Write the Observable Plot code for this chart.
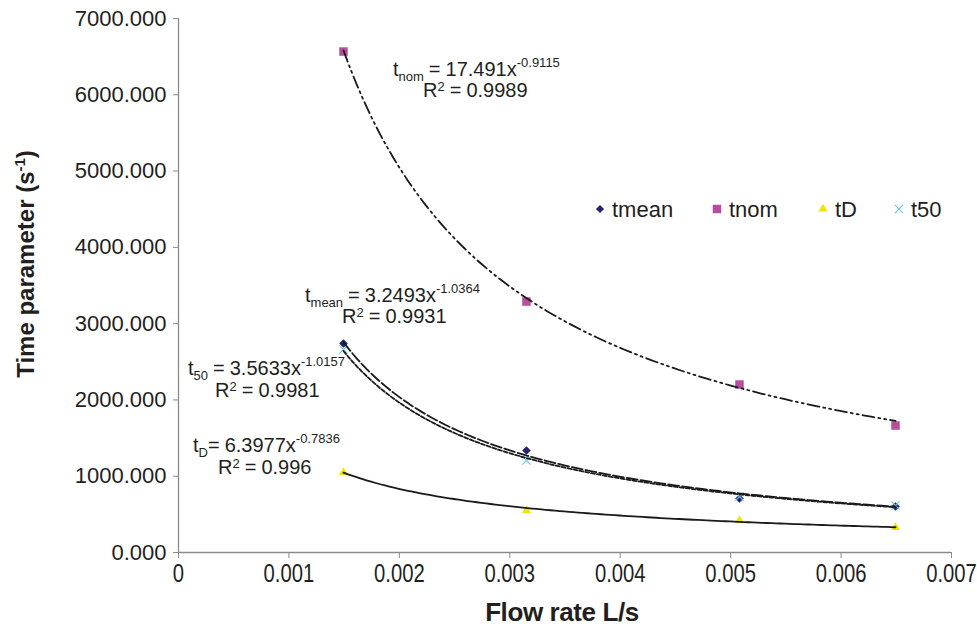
<!DOCTYPE html>
<html><head><meta charset="utf-8">
<script src="https://cdn.jsdelivr.net/npm/d3@7"></script>
<script src="https://cdn.jsdelivr.net/npm/@observablehq/plot@0.6"></script>
<style>
body{margin:0;background:#fff}
#chart svg{font-family:"Liberation Sans",Arial,sans-serif;overflow:visible}
</style>
</head><body><div id="chart"></div>
<script>
// ---- data ----
const flow  = [0.001494, 0.003151, 0.00508, 0.006493];
const tmean = [2740, 1337, 708, 603];
const tnom  = [6567, 3290, 2202, 1665];
const tD    = [1049, 551, 419, 328];
const t50   = [2661, 1206, 734, 616];

const seriesNames = ["tmean", "tnom", "tD", "t50"];
const seriesColors = ["#25226f", "#b64f9f", "#f2e400", "#6cc8e8"];
const seriesSymbols = ["diamond2", "square", "triangle2", "times"];

// power trendlines y = a x^b (as printed on the chart)
const fitA = [3.2493, 17.491, 6.3977, 3.5633];
const fitB = [-1.0364, -0.9115, -0.7836, -1.0157];
const fitR2 = ["0.9931", "0.9989", "0.996", "0.9981"];
const fitSub = ["mean", "nom", "D", "50"];
const fitDash = ["11,3", "12,4,2,4,2,4", "", "4,2"];

const xTicks = [0, 0.001, 0.002, 0.003, 0.004, 0.005, 0.006, 0.007];
const yTicks = [0, 1000, 2000, 3000, 4000, 5000, 6000, 7000];

// ---- build tables ----
const values = [tmean, tnom, tD, t50];
const points = [];
seriesNames.forEach((s, i) => flow.forEach((x, j) => points.push({series: s, x, y: values[i][j]})));

const curves = [];
seriesNames.forEach((s, i) => {
  const x0 = flow[0], x1 = flow[flow.length - 1];
  d3.range(0, 121).forEach(k => {
    const x = x0 + (x1 - x0) * k / 120;
    curves.push({series: s, x, y: fitA[i] * Math.pow(x, fitB[i])});
  });
});

const W = 977, H = 630;
const axisGray = "#8a8a8a";
const textCol = "#231f20";

const marks = [];
// markers
seriesNames.forEach((s, i) => {
  const sym = seriesSymbols[i];
  const isStroke = sym === "times";
  const rr = {diamond2: 3.9, square: 4.8, triangle2: 4.3, times: 3.8}[sym];
  marks.push(Plot.dot(points.filter(d => d.series === s), {
    x: "x", y: "y", symbol: () => sym, r: rr,
    fill: isStroke ? "none" : seriesColors[i],
    stroke: isStroke ? seriesColors[i] : "none",
    strokeWidth: 1.2
  }));
});
// trendlines
seriesNames.forEach((s, i) => {
  marks.push(Plot.line(curves.filter(d => d.series === s), {
    x: "x", y: "y", stroke: "#1a1a1a", strokeWidth: 1.8,
    strokeDasharray: fitDash[i] || null, curve: "linear"
  }));
});

const plot = Plot.plot({
  width: W, height: H,
  marginLeft: 178, marginRight: 26, marginTop: 18, marginBottom: 78,
  style: {fontFamily: '"Liberation Sans", Arial, sans-serif', background: "#fff", color: textCol},
  x: {domain: [0, 0.007]},
  y: {domain: [0, 7000]},
  symbol: {type: "identity"},
  marks: [
    Plot.axisY({ticks: yTicks, tickFormat: d3.format(".3f"), tickSize: 5, tickPadding: 7,
      stroke: axisGray, fill: textCol, fontSize: 22, label: null}),
    Plot.axisX({ticks: xTicks, tickFormat: d => d === 0 ? "0" : d3.format(".3f")(d), tickSize: 6, tickPadding: 6,
      stroke: axisGray, fill: textCol, fontSize: 22, label: null}),
    Plot.ruleX([0], {stroke: axisGray, strokeWidth: 1.3}),
    Plot.ruleY([0], {stroke: axisGray, strokeWidth: 1.3}),
    ...marks
  ]
});

document.getElementById("chart").appendChild(plot);
const svg = d3.select(plot);

// stretch x tick labels vertically like the reference
svg.selectAll('[aria-label="x-axis tick label"] text').each(function() {
  const t = d3.select(this);
  const tr = t.attr("transform") || "";
  t.attr("transform", tr + " scale(0.92,1.15)");
});

const ann = svg.append("g").attr("text-anchor", "start").attr("fill", textCol);

// axis titles
ann.append("text").attr("x", 562).attr("y", 621).attr("text-anchor", "middle")
  .attr("font-size", 26).attr("font-weight", "bold")
  .attr("letter-spacing", "-0.4").text("Flow rate L/s");
const yt = ann.append("text").attr("transform", "translate(34,264) rotate(-90)").attr("text-anchor", "middle")
  .attr("font-size", 24).attr("font-weight", "bold");
yt.append("tspan").text("Time parameter (s");
yt.append("tspan").attr("font-size", 15).attr("dy", -9).text("-1");
yt.append("tspan").attr("dy", 9).text(")");

// equation annotations (pixel anchors)
const eqPos = [
  {series: "tmean", x: 305, y: 302, rx: 342, ry: 323, gap: 5},
  {series: "tnom", x: 393, y: 76, rx: 423, ry: 97, gap: 5},
  {series: "tD", x: 193, y: 452, rx: 218, ry: 474, gap: 0},
  {series: "t50", x: 188, y: 375, rx: 215, ry: 397, gap: 5}
];
eqPos.forEach(p => {
  const i = seriesNames.indexOf(p.series);
  const t = ann.append("text").attr("x", p.x).attr("y", p.y).attr("font-size", 20);
  t.append("tspan").text("t");
  t.append("tspan").attr("font-size", 13).attr("dy", 5).text(fitSub[i]);
  t.append("tspan").attr("dy", -5).attr("dx", p.gap).text("=");
  t.append("tspan").attr("dx", 5).text(fitA[i] + "x");
  t.append("tspan").attr("font-size", 13).attr("dy", -9).text(String(fitB[i]));
  const r = ann.append("text").attr("x", p.rx).attr("y", p.ry).attr("font-size", 20);
  r.append("tspan").text("R");
  r.append("tspan").attr("font-size", 13).attr("dy", -6).text("2");
  r.append("tspan").attr("dy", 6).attr("dx", 5).text("=");
  r.append("tspan").attr("dx", 5).text(fitR2[i]);
});

// legend inside the plot
const legX = [600, 717, 823, 899];
const legY = 209;
const symMap = {diamond2: d3.symbolDiamond2, square: d3.symbolSquare, triangle2: d3.symbolTriangle2, times: d3.symbolTimes};
seriesNames.forEach((s, i) => {
  const sym = seriesSymbols[i];
  const size = {diamond2: 43, square: 72, triangle2: 58, times: 45}[sym];
  const g = ann.append("path").attr("transform", `translate(${legX[i]},${legY})`)
    .attr("d", d3.symbol(symMap[sym], size)());
  if (sym === "times") g.attr("fill", "none").attr("stroke", seriesColors[i]).attr("stroke-width", 1.2);
  else g.attr("fill", seriesColors[i]).attr("stroke", "none");
  ann.append("text").attr("x", legX[i] + 12).attr("y", legY + 8).attr("font-size", 22).text(s);
});
</script>
</body></html>
